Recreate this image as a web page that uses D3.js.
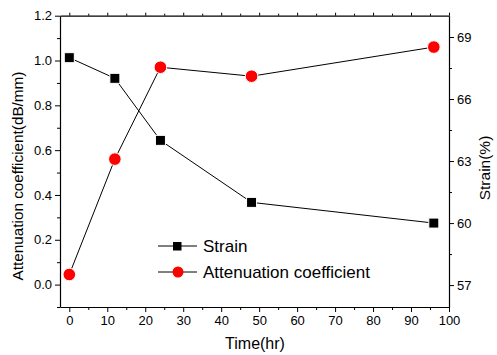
<!DOCTYPE html>
<html>
<head>
<meta charset="utf-8">
<script src="https://cdn.jsdelivr.net/npm/d3@7"></script>
<style>
  body { margin: 0; background: #fff; }
  text { font-family: "Liberation Sans", Arial, sans-serif; fill: #000; }
</style>
</head>
<body>
<svg id="chart" width="497" height="355"></svg>
<script>
// data
let times = [0, 12, 24, 48, 96];
let strain = [68, 67, 64, 61, 60];
let attenuation = [0.045, 0.56, 0.97, 0.93, 1.06];
let xTicks = [0, 10, 20, 30, 40, 50, 60, 70, 80, 90, 100];
let leftTicks = [0.0, 0.2, 0.4, 0.6, 0.8, 1.0, 1.2];
let rightTicks = [57, 60, 63, 66, 69];

let svg = d3.select('#chart');
let plotLeft = 60, plotRight = 449, plotTop = 15.7, plotBottom = 307;

let xScale = d3.scaleLinear().domain([-2.45, 100]).range([plotLeft, plotRight]);
let yLeft = d3.scaleLinear().domain([-0.1, 1.2]).range([plotBottom, plotTop]);
let yRight = d3.scaleLinear().domain([55.94, 70.03]).range([plotBottom, plotTop]);

// minor ticks
let xMinor = d3.range(5, 100, 10);
let leftMinor = d3.range(-0.1, 1.2, 0.2).map(d => +d.toFixed(1));
let rightMinor = d3.range(55.5, 70, 3).filter(d => d > 56);

function styleAxis(g) {
  g.selectAll('path').attr('stroke', '#000').attr('stroke-width', 1.2);
  g.selectAll('line').attr('stroke', '#000').attr('stroke-width', 1);
  g.selectAll('text').style('font-size', '13px').style('font-family', '"Liberation Sans", Arial, sans-serif');
}

// bottom axis
let gX = svg.append('g').attr('transform', `translate(0, ${plotBottom})`)
  .call(d3.axisBottom(xScale).tickValues(xTicks).tickSize(5).tickPadding(4).tickSizeOuter(0).tickFormat(d3.format('d')));
styleAxis(gX);
svg.append('g').attr('transform', `translate(0, ${plotBottom})`)
  .call(d3.axisBottom(xScale).tickValues(xMinor).tickSize(3).tickFormat('').tickSizeOuter(0))
  .call(g => g.select('path').remove()).call(styleAxis);

// top axis, ticks only
let gTop = svg.append('g').attr('transform', `translate(0, ${plotTop})`)
  .call(d3.axisTop(xScale).tickValues(xTicks).tickSize(3).tickFormat('').tickSizeOuter(0));
styleAxis(gTop);
svg.append('g').attr('transform', `translate(0, ${plotTop})`)
  .call(d3.axisTop(xScale).tickValues(xMinor).tickSize(2).tickFormat('').tickSizeOuter(0))
  .call(g => g.select('path').remove()).call(styleAxis);

// left axis
let gY = svg.append('g').attr('transform', `translate(${plotLeft}, 0)`)
  .call(d3.axisLeft(yLeft).tickValues(leftTicks).tickSize(5).tickPadding(3).tickSizeOuter(0).tickFormat(d3.format('.1f')));
styleAxis(gY);
svg.append('g').attr('transform', `translate(${plotLeft}, 0)`)
  .call(d3.axisLeft(yLeft).tickValues(leftMinor).tickSize(3).tickFormat('').tickSizeOuter(0))
  .call(g => g.select('path').remove()).call(styleAxis);

// right axis
let gR = svg.append('g').attr('transform', `translate(${plotRight}, 0)`)
  .call(d3.axisRight(yRight).tickValues(rightTicks).tickSize(5).tickPadding(3).tickSizeOuter(0).tickFormat(d3.format('d')));
styleAxis(gR);
svg.append('g').attr('transform', `translate(${plotRight}, 0)`)
  .call(d3.axisRight(yRight).tickValues(rightMinor).tickSize(3).tickFormat('').tickSizeOuter(0))
  .call(g => g.select('path').remove()).call(styleAxis);

// lines
let strainLine = d3.line().x((d, i) => xScale(times[i])).y(d => yRight(d));
let attLine = d3.line().x((d, i) => xScale(times[i])).y(d => yLeft(d));

svg.append('path').datum(strain).attr('d', strainLine)
  .attr('fill', 'none').attr('stroke', '#000').attr('stroke-width', 1);
svg.append('path').datum(attenuation).attr('d', attLine)
  .attr('fill', 'none').attr('stroke', '#000').attr('stroke-width', 1);

// markers
let sq = 10;
svg.selectAll('rect.strain').data(strain).enter().append('rect')
  .attr('class', 'strain')
  .attr('x', (d, i) => xScale(times[i]) - sq / 2)
  .attr('y', d => yRight(d) - sq / 2)
  .attr('width', sq).attr('height', sq)
  .attr('fill', '#000').attr('stroke', '#fff').attr('stroke-width', 1);

svg.selectAll('circle.att').data(attenuation).enter().append('circle')
  .attr('class', 'att')
  .attr('cx', (d, i) => xScale(times[i]))
  .attr('cy', d => yLeft(d))
  .attr('r', 6.3)
  .attr('fill', '#ff0000').attr('stroke', '#fff').attr('stroke-width', 1);

// axis titles
svg.append('text')
  .attr('x', 255).attr('y', 349)
  .attr('text-anchor', 'middle').style('font-size', '16px')
  .text('Time(hr)');
svg.append('text')
  .attr('transform', `translate(23, 176) rotate(-90)`)
  .attr('text-anchor', 'middle').style('font-size', '15.3px')
  .text('Attenuation coefficient(dB/mm)');
svg.append('text')
  .attr('transform', `translate(490, 168) rotate(-90)`)
  .attr('text-anchor', 'middle').style('font-size', '15.5px')
  .text('Strain(%)');

// legend
let legend = [
  { name: 'Strain', y: 246, shape: 'square' },
  { name: 'Attenuation coefficient', y: 272, shape: 'circle' }
];
legend.forEach(l => {
  svg.append('line').attr('x1', 158).attr('x2', 197).attr('y1', l.y).attr('y2', l.y)
    .attr('stroke', '#000').attr('stroke-width', 1);
  if (l.shape == 'square') {
    svg.append('rect').attr('x', 173).attr('y', l.y - 4).attr('width', 8.5).attr('height', 8.5).attr('fill', '#000');
  } else {
    svg.append('circle').attr('cx', 178).attr('cy', l.y).attr('r', 5.5).attr('fill', '#ff0000');
  }
  svg.append('text').attr('x', 203).attr('y', l.y + 6).style('font-size', '17px').text(l.name);
});
</script>
</body>
</html>
